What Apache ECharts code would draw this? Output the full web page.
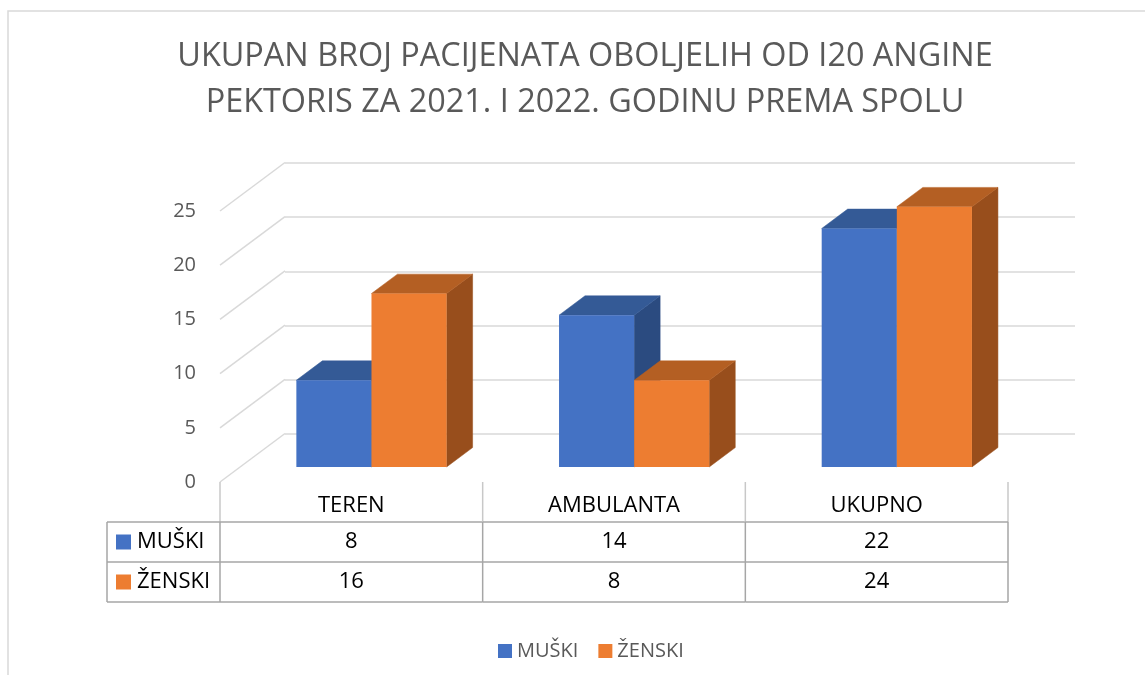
<!DOCTYPE html>
<html>
<head>
<meta charset="utf-8">
<script src="https://cdn.jsdelivr.net/npm/echarts@6/dist/echarts.min.js"></script>
<style>
  html, body { margin: 0; padding: 0; background: #fff; }
  #main { width: 1145px; height: 675px; }
</style>
</head>
<body>
<div id="main"></div>
<script>
// podaci
var categories = ['TEREN', 'AMBULANTA', 'UKUPNO'];
var seriesNames = ['MUŠKI', 'ŽENSKI'];
var muski = [8, 14, 22];
var zenski = [16, 8, 24];
var yTicks = [0, 5, 10, 15, 20, 25];

var FONT = 'Open Sans';
var DX = 65, DY = -48.5;      // pomak dubine (prednji -> zadnji zid)
var Z0 = 0.31, Z1 = 0.71;     // dubina stupaca
var faces = [
    { front: '#4472C4', top: '#345A96', side: '#2B4B80' },
    { front: '#ED7D31', top: '#B45F23', side: '#984E1C' }
];

function barRender(s) {
    return function (params, api) {
        var i = api.value(0), v = api.value(1);
        var c0 = api.coord([i, 0]), c1 = api.coord([i, v]);
        var bw = api.size([1, 0])[0] * 0.286;
        var x0 = c0[0] + DX * Z0 + (s === 0 ? -bw : 0), x1 = x0 + bw;
        var yb = c0[1] + DY * Z0, yt = c1[1] + DY * Z0;
        var dx = DX * (Z1 - Z0), dy = DY * (Z1 - Z0);
        var f = faces[s];
        return {
            type: 'group',
            children: [
                { type: 'polygon', shape: { points: [[x1, yt], [x1 + dx, yt + dy], [x1 + dx, yb + dy], [x1, yb]] },
                  style: { fill: f.side, stroke: f.side, lineWidth: 0.5 } },
                { type: 'polygon', shape: { points: [[x0, yt], [x1, yt], [x1 + dx, yt + dy], [x0 + dx, yt + dy]] },
                  style: { fill: f.top, stroke: f.top, lineWidth: 0.5 } },
                { type: 'rect', shape: { x: x0, y: yt, width: bw, height: yb - yt },
                  style: { fill: f.front } }
            ]
        };
    };
}

function diagRender(params, api) {
    var y = api.coord([0, api.value(1)])[1];
    var x = params.coordSys.x;
    return { type: 'line', shape: { x1: x, y1: y, x2: x + DX, y2: y + DY },
             style: { stroke: '#d9d9d9', lineWidth: 1.5 } };
}

var ROW = 40;
function tableRender(params, api) {
    var i = api.value(0);
    var c = api.coord([i, 0]);
    var bw = api.size([1, 0])[0];
    var xl = c[0] - bw / 2, xr = c[0] + bw / 2, y0 = c[1];
    var dark = '#a6a6a6', light = '#c8c8c8';
    var rows = [muski, zenski];
    var ch = [];
    ch.push({ type: 'line', shape: { x1: xl, y1: y0, x2: xl, y2: y0 + ROW }, style: { stroke: light, lineWidth: 1.5 } });
    ch.push({ type: 'line', shape: { x1: xl, y1: y0 + ROW, x2: xl, y2: y0 + 3 * ROW }, style: { stroke: dark, lineWidth: 1.5 } });
    if (i === categories.length - 1) {
        ch.push({ type: 'line', shape: { x1: xr, y1: y0, x2: xr, y2: y0 + ROW }, style: { stroke: light, lineWidth: 1.5 } });
        ch.push({ type: 'line', shape: { x1: xr, y1: y0 + ROW, x2: xr, y2: y0 + 3 * ROW }, style: { stroke: dark, lineWidth: 1.5 } });
    }
    for (var r = 0; r < 3; r++) {
        ch.push({ type: 'line', shape: { x1: xl, y1: y0 + ROW * (r + 1), x2: xr, y2: y0 + ROW * (r + 1) }, style: { stroke: dark, lineWidth: 1.5 } });
    }
    rows.forEach(function (vals, r) {
        ch.push({ type: 'text', x: c[0], y: y0 + ROW * (r + 1.5),
                  style: { text: String(vals[i]), fill: '#000', font: '22px "' + FONT + '"', align: 'center', verticalAlign: 'middle' } });
    });
    if (i === 0) {
        var hx = xl - 113;
        ch.push({ type: 'line', shape: { x1: hx, y1: y0 + ROW, x2: hx, y2: y0 + 3 * ROW }, style: { stroke: dark, lineWidth: 1.5 } });
        for (var k = 1; k <= 3; k++) {
            ch.push({ type: 'line', shape: { x1: hx, y1: y0 + ROW * k, x2: xl, y2: y0 + ROW * k }, style: { stroke: dark, lineWidth: 1.5 } });
        }
        seriesNames.forEach(function (nm, r) {
            var cy = y0 + ROW * (r + 1.5);
            ch.push({ type: 'rect', shape: { x: hx + 9, y: cy - 7.5, width: 15, height: 15 }, style: { fill: faces[r].front } });
            ch.push({ type: 'text', x: hx + 30, y: cy,
                      style: { text: nm, fill: '#000', font: '22px "' + FONT + '"', align: 'left', verticalAlign: 'middle' } });
        });
    }
    return { type: 'group', children: ch };
}

var chart = echarts.init(document.getElementById('main'));
chart.setOption({
    backgroundColor: '#fff',
    color: [faces[0].front, faces[1].front],
    animation: false,
    title: {
        text: 'UKUPAN BROJ PACIJENATA OBOLJELIH OD I20 ANGINE\nPEKTORIS ZA 2021. I 2022. GODINU PREMA SPOLU',
        left: 580, top: 29, textAlign: 'center',
        textStyle: { color: '#595959', fontSize: 32.4, fontWeight: 'normal', fontFamily: FONT, lineHeight: 46 }
    },
    legend: {
        data: seriesNames, left: 493, top: 636, icon: 'rect',
        itemWidth: 14, itemHeight: 14, itemGap: 20,
        textStyle: { color: '#595959', fontSize: 20, fontFamily: FONT }
    },
    graphic: [{
        type: 'rect', shape: { x: 8, y: 11, width: 1200, height: 700 },
        style: { fill: 'none', stroke: '#d9d9d9', lineWidth: 1.5 }, z: -10
    }],
    grid: [
        { left: 220, right: 137, top: 211, bottom: 193 },
        { left: 285, right: 70, top: 163, bottom: 241 }
    ],
    xAxis: [
        { type: 'category', data: categories, gridIndex: 0,
          axisLine: { show: false }, axisTick: { show: false },
          axisLabel: { color: '#000', fontSize: 22, fontFamily: FONT, margin: 13 } },
        { type: 'category', data: categories, gridIndex: 1, show: false }
    ],
    yAxis: [
        { type: 'value', gridIndex: 0, min: 0, max: 25, interval: 5,
          axisLine: { show: false }, axisTick: { show: false }, splitLine: { show: false },
          axisLabel: { color: '#595959', fontSize: 20, fontFamily: FONT, margin: 24 } },
        { type: 'value', gridIndex: 1, min: 0, max: 25, interval: 5,
          axisLine: { show: false }, axisTick: { show: false }, axisLabel: { show: false },
          splitLine: { lineStyle: { color: '#d9d9d9', width: 1.5 } } }
    ],
    series: [
        { type: 'custom', name: 'diag', xAxisIndex: 0, yAxisIndex: 0, silent: true,
          renderItem: diagRender, data: yTicks.map(function (v) { return [0, v]; }), z: 1 },
        { type: 'custom', name: seriesNames[0], xAxisIndex: 0, yAxisIndex: 0,
          itemStyle: { color: faces[0].front }, renderItem: barRender(0),
          data: muski.map(function (v, i) { return [i, v]; }), z: 3 },
        { type: 'custom', name: seriesNames[1], xAxisIndex: 0, yAxisIndex: 0,
          itemStyle: { color: faces[1].front }, renderItem: barRender(1),
          data: zenski.map(function (v, i) { return [i, v]; }), z: 4 },
        { type: 'custom', name: 'tablica', xAxisIndex: 0, yAxisIndex: 0, silent: true,
          renderItem: tableRender, data: categories.map(function (c, i) { return [i]; }), z: 5 }
    ]
});
</script>
</body>
</html>
